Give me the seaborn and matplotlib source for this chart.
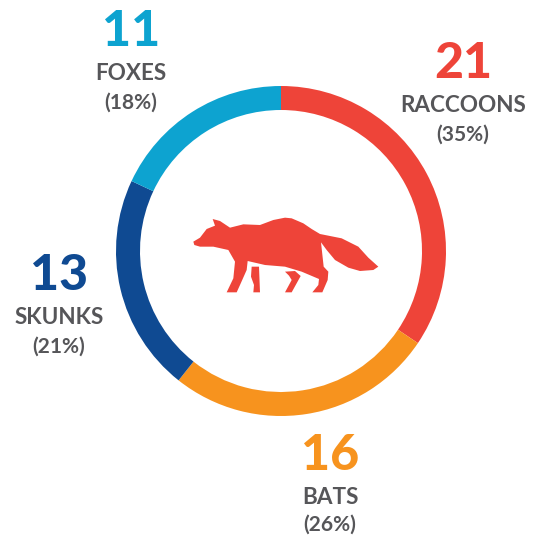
import matplotlib
matplotlib.use("Agg")
import matplotlib.pyplot as plt
import seaborn as sns
from matplotlib.patches import Polygon

# clockwise from the top
animals = ["RACCOONS", "BATS", "SKUNKS", "FOXES"]
counts = [21, 16, 13, 11]
percents = [35, 26, 21, 18]
colors = ["#EE4439", "#F7931E", "#0F4A92", "#0DA3D0"]

W, H = 538, 536

sns.set_style("white")
plt.rcParams["font.family"] = ["Lato", "DejaVu Sans"]

fig = plt.figure(figsize=(W / 100, H / 100), dpi=100)
ax = fig.add_axes([0, 0, 1, 1])

ax.pie(counts, colors=colors, startangle=90, counterclock=False,
       center=(281, H - 251), radius=165,
       wedgeprops=dict(width=24, linewidth=0))
ax.set_xlim(0, W)
ax.set_ylim(0, H)
ax.set_aspect("equal")
ax.axis("off")

# label centres in picture pixels: x, number, name, percent
label_pos = {
    "RACCOONS": (463, 63, 105, 135),
    "BATS": (330, 455, 498, 525),
    "SKUNKS": (59, 275, 317, 347),
    "FOXES": (131, 31, 73, 103),
}
grey = "#565659"
for name, n, pct, col in zip(animals, counts, percents, colors):
    x, y1, y2, y3 = label_pos[name]
    ax.text(x, H - y1, str(n), color=col, fontsize=36, fontweight="black",
            ha="center", va="center")
    ax.text(x, H - y2, name, color=grey, fontsize=16.2, fontweight="bold",
            ha="center", va="center")
    ax.text(x, H - y3, f"({pct}%)", color=grey, fontsize=15, fontweight="bold",
            ha="center", va="center")


def left(points):
    return [(185 + px / 3, 205 + py / 3) for px, py in points]


def right(points):
    return [(285 + px / 3, 205 + py / 3) for px, py in points]


def icon(pts):
    pts = [(px, H - py) for px, py in pts]
    ax.add_patch(Polygon(pts, closed=True, facecolor=colors[0], edgecolor="none"))


icon(left([(25, 110), (45, 98), (65, 72), (90, 62), (83, 42), (105, 48), (135, 68),
           (175, 58), (225, 60), (265, 45), (300, 38)])
     + right([(20, 40), (55, 55), (80, 72), (105, 87), (170, 100), (220, 125), (250, 158),
              (280, 185), (265, 195), (225, 198), (190, 188), (150, 165), (125, 135), (108, 112),
              (116, 185), (130, 200), (128, 225), (112, 262), (82, 262), (100, 240),
              (102, 222), (50, 200), (0, 185)])
     + left([(240, 180), (188, 168), (185, 195), (165, 240), (155, 262), (125, 262),
             (145, 220), (150, 170), (130, 135), (85, 125), (45, 125), (28, 120)]))
icon(left([(200, 185), (222, 185), (225, 262), (205, 262), (207, 240), (198, 215)]))
icon(right([(0, 200), (30, 198), (47, 213), (20, 262), (0, 262), (20, 225), (12, 212)]))

fig.savefig("out.png", dpi=100, facecolor="white")
